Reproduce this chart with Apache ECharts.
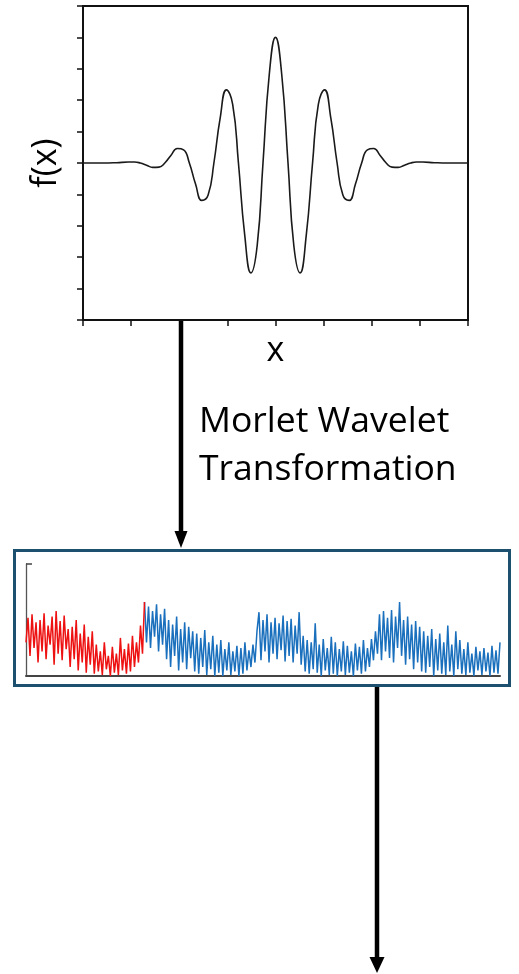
<!DOCTYPE html>
<html>
<head>
<meta charset="utf-8">
<script src="https://cdn.jsdelivr.net/npm/echarts@6/dist/echarts.min.js"></script>
<style>
html,body{margin:0;padding:0;background:#fff;}
#c{width:519px;height:974px;}
</style>
</head>
<body>
<div id="c"></div>
<script>
// ---- Morlet wavelet (top panel) ----
var waveX = [-4.00, -3.60, -3.30, -3.06, -2.93, -2.81, -2.68, -2.55, -2.42, -2.30, -2.17, -2.04, -1.91, -1.79, -1.66, -1.53, -1.40, -1.28, -1.15, -1.02, -0.89, -0.77, -0.64, -0.51, -0.38, -0.26, -0.13,
             0.00, 0.13, 0.26, 0.38, 0.51, 0.64, 0.77, 0.89, 1.02, 1.15, 1.28, 1.40, 1.53, 1.66, 1.79, 1.91, 2.04, 2.17, 2.30, 2.42, 2.55, 2.68, 2.81, 2.93, 3.06, 3.30, 3.60, 4.00];
var waveY = [0.00, 0.00, 0.01, 0.03, 0.03, 0.00, -0.07, -0.14, -0.13, 0.00, 0.25, 0.46, 0.42, 0.00, -0.68, -1.19, -1.02, 0.00, 1.43, 2.33, 1.87, 0.00, -2.29, -3.50, -2.62, 0.00, 2.81,
             4.00, 2.81, 0.00, -2.62, -3.50, -2.29, 0.00, 1.87, 2.33, 1.43, 0.00, -1.02, -1.19, -0.68, 0.00, 0.42, 0.46, 0.25, 0.00, -0.13, -0.14, -0.07, 0.00, 0.03, 0.03, 0.01, 0.00, 0.00];

// ---- Transformed signal (bottom panel) ----
var redStart = 0;
var redVals = [30, 52, 18, 55, 25, 48, 12, 50, 22, 56, 15, 45, 28, 53, 10, 58, 20, 49, 14, 54, 24, 42,
               8, 44, 15, 50, 5, 38, 12, 46, 3, 35, 10, 40, 2,
               28, 4, 22, 1, 30, 6, 18, 0, 26, 3, 20, 1, 34, 5, 24, 2, 29, 4,
               36, 8, 30, 12, 45, 20, 66];
var blueStart = 59;
var blueVals = [66, 30, 62, 25, 58, 35, 64, 22, 55, 28, 60,
                15, 50, 8, 46, 18, 53, 5, 42, 12, 48, 6, 44, 16, 40, 4,
                38, 2, 34, 8, 41, 1, 30, 6, 36, 0,
                28, 3, 32, 0, 24, 5, 30, 1, 22, 4, 27, 0,
                25, 2, 30, 5, 23, 8, 28, 12, 40,
                57, 14, 50, 22, 55, 12, 48, 20, 52, 15, 47, 23, 54, 13, 49, 18, 51, 12, 45, 20, 57,
                10, 36, 4, 32, 2, 30, 6, 47,
                3, 28, 0, 33, 5, 25, 1, 35, 2, 30, 0, 24, 4, 31, 1, 27, 3, 22, 0, 29, 5, 26,
                2, 32, 4, 25, 8, 33, 14, 40,
                20, 55, 14, 58, 22, 52, 16, 59, 12, 53, 25, 66, 18,
                50, 10, 53, 15, 46, 6, 49, 12, 44, 4,
                40, 3, 36, 8, 42, 0, 33, 5, 38, 2,
                30, 1, 45, 4, 28, 0, 40, 6, 32, 2,
                24, 1, 30, 3, 20, 0, 26, 5, 22, 1, 25, 4, 21, 0, 27, 3, 23, 2, 30];

var titleLines = ['Morlet Wavelet', 'Transformation'];
var yName = 'f(x)';
var xName = 'x';

var wavePairs = waveX.map(function (x, i) { return [x, waveY[i]]; });
var redPairs = redVals.map(function (v, i) { return [redStart + i, v]; });
var bluePairs = blueVals.map(function (v, i) { return [blueStart + i, v]; });
var lastIdx = blueStart + blueVals.length - 1;

var chart = echarts.init(document.getElementById('c'), null, { renderer: 'canvas' });
var FONT = '"Open Sans", "Liberation Sans", sans-serif';

chart.setOption({
  backgroundColor: '#ffffff',
  animation: false,
  grid: [
    { left: 83, right: 51, top: 6, bottom: 654, show: true, borderColor: '#111', borderWidth: 2, backgroundColor: 'transparent' },
    { left: 26, right: 19, top: 564, bottom: 298, show: false }
  ],
  xAxis: [
    {
      gridIndex: 0, type: 'value', min: -4, max: 4, interval: 1,
      name: xName, nameLocation: 'middle', nameGap: 14,
      nameTextStyle: { fontFamily: FONT, fontSize: 34, color: '#000' },
      axisLine: { show: true, onZero: false, lineStyle: { color: '#111', width: 2 } },
      axisTick: { show: true, inside: false, length: 6, lineStyle: { color: '#111', width: 1.5 } },
      axisLabel: { show: false },
      splitLine: { show: false }
    },
    {
      gridIndex: 1, type: 'value', min: 0, max: lastIdx,
      axisLine: { show: true, onZero: false, lineStyle: { color: '#444', width: 2 } },
      axisTick: { show: false },
      axisLabel: { show: false },
      splitLine: { show: false }
    }
  ],
  yAxis: [
    {
      gridIndex: 0, type: 'value', min: -5, max: 5, interval: 1,
      name: yName, nameLocation: 'middle', nameGap: 20, nameRotate: 90,
      nameTextStyle: { fontFamily: FONT, fontSize: 34, color: '#000' },
      axisLine: { show: true, onZero: false, lineStyle: { color: '#111', width: 2 } },
      axisTick: { show: true, inside: false, length: 6, lineStyle: { color: '#111', width: 1.5 } },
      axisLabel: { show: false },
      splitLine: { show: false }
    },
    {
      gridIndex: 1, type: 'value', min: 0, max: 100, interval: 100,
      axisLine: { show: true, onZero: false, lineStyle: { color: '#555', width: 1.3 } },
      axisTick: { show: true, inside: true, length: 6, lineStyle: { color: '#444', width: 1.5 } },
      axisLabel: { show: false },
      splitLine: { show: false }
    }
  ],
  series: [
    {
      type: 'line', xAxisIndex: 0, yAxisIndex: 0, data: wavePairs,
      smooth: 0.5, showSymbol: false,
      lineStyle: { color: '#1a1a1a', width: 1.6 }
    },
    {
      type: 'line', xAxisIndex: 1, yAxisIndex: 1, data: bluePairs,
      showSymbol: false, lineStyle: { color: '#1b70bd', width: 1.5 }
    },
    {
      type: 'line', xAxisIndex: 1, yAxisIndex: 1, data: redPairs,
      showSymbol: false, lineStyle: { color: '#ee1111', width: 1.5 }
    }
  ],
  graphic: [
    {
      type: 'text', left: 199, top: 398, z: 10,
      style: { text: titleLines.join('\n'), font: '35.5px ' + FONT, fill: '#000', lineHeight: 48 }
    },
    {
      type: 'rect', z: 5, silent: true,
      shape: { x: 14.5, y: 550.5, width: 495, height: 135 },
      style: { fill: 'none', stroke: '#1d4f6e', lineWidth: 3 }
    },
    {
      type: 'line', z: 6, shape: { x1: 181, y1: 321, x2: 181, y2: 534 },
      style: { stroke: '#000', lineWidth: 4.5 }
    },
    {
      type: 'polygon', z: 6, shape: { points: [[174.5, 531], [187.5, 531], [181, 548]] },
      style: { fill: '#000' }
    },
    {
      type: 'line', z: 6, shape: { x1: 377, y1: 687, x2: 377, y2: 960 },
      style: { stroke: '#000', lineWidth: 4.5 }
    },
    {
      type: 'polygon', z: 6, shape: { points: [[369.5, 957], [384.5, 957], [377, 973]] },
      style: { fill: '#000' }
    }
  ]
});
</script>
</body>
</html>
